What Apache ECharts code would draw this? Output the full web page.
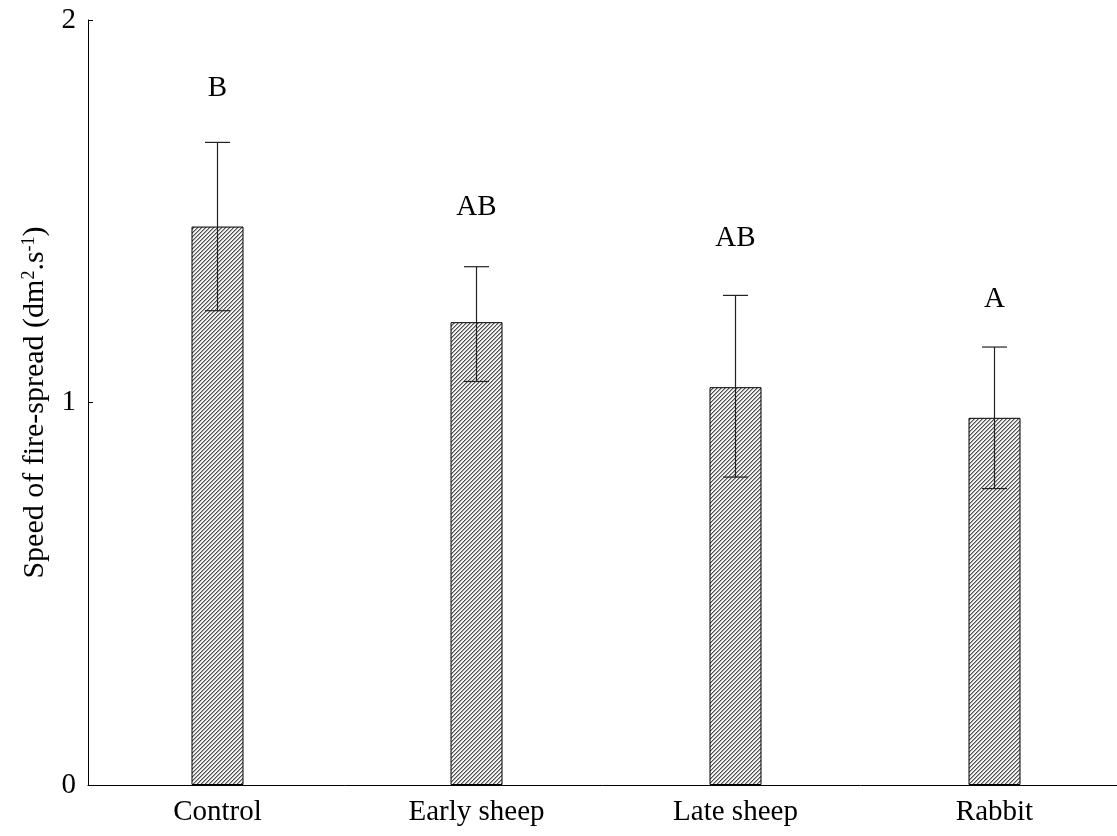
<!DOCTYPE html>
<html>
<head>
<meta charset="utf-8">
<script src="https://cdn.jsdelivr.net/npm/echarts@6/dist/echarts.min.js"></script>
<style>
  html, body { margin: 0; padding: 0; background: #fff; }
  #chart { width: 1117px; height: 836px; }
</style>
</head>
<body>
<div id="chart"></div>
<script>
// data
const categories = ['Control', 'Early sheep', 'Late sheep', 'Rabbit']
const speedMean = [1.46, 1.21, 1.04, 0.96]
const errLow = [1.24, 1.055, 0.805, 0.775]
const errHigh = [1.68, 1.355, 1.28, 1.145]
const letters = ['B', 'AB', 'AB', 'A']
const letterPos = [1.82, 1.51, 1.43, 1.27]
const yTicks = [0, 1, 2]

const font = 'Liberation Serif'

// diagonal hatch for the bars
const makeHatch = () => {
  const c = document.createElement('canvas')
  c.width = 4
  c.height = 4
  const ctx = c.getContext('2d')
  const img = ctx.createImageData(4, 4)
  for (let y = 0; y < 4; y++) {
    for (let x = 0; x < 4; x++) {
      const k = (x + y) % 4
      const v = k === 0 ? 80 : (k === 1 ? 165 : 242)
      const i = (y * 4 + x) * 4
      img.data[i] = v
      img.data[i + 1] = v
      img.data[i + 2] = v
      img.data[i + 3] = 255
    }
  }
  ctx.putImageData(img, 0, 0)
  return c
}

const chart = echarts.init(document.getElementById('chart'))

const option = {
  animation: false,
  grid: {
    left: 88,
    right: -7,
    top: 20,
    bottom: 51,
    containLabel: false,
    outerBoundsMode: 'none'
  },
  xAxis: {
    type: 'category',
    data: categories,
    axisLine: { lineStyle: { color: '#000', width: 1 } },
    axisTick: { show: false },
    axisLabel: {
      color: '#000',
      fontFamily: font,
      fontSize: 29,
      margin: 13
    }
  },
  yAxis: {
    type: 'value',
    min: 0,
    max: 2,
    interval: 1,
    name: '{t|Speed of fire-spread (dm}{s|2}{t|.s}{s|-1}{t|)}',
    nameLocation: 'middle',
    nameGap: 25,
    nameRotate: 90,
    nameTextStyle: {
      rich: {
        t: { fontFamily: font, fontSize: 30, color: '#000' },
        s: { fontFamily: font, fontSize: 18, color: '#000', padding: [0, 0, 13, 0] }
      }
    },
    axisLine: { show: true, lineStyle: { color: '#000', width: 1 } },
    axisTick: { show: true, inside: true, length: 5, lineStyle: { color: '#000' } },
    splitLine: { show: false },
    axisLabel: {
      color: '#000',
      fontFamily: font,
      fontSize: 29,
      margin: 12,
      padding: [6, 0, 0, 0],
      formatter: (v) => (yTicks.includes(v) ? String(v) : '')
    }
  },
  series: [
    {
      type: 'bar',
      data: speedMean,
      barWidth: 52,
      itemStyle: {
        color: { image: makeHatch(), repeat: 'repeat' },
        borderColor: '#000',
        borderWidth: 1
      }
    },
    {
      type: 'custom',
      data: categories.map((c, i) => [i, errLow[i], errHigh[i]]),
      renderItem: (params, api) => {
        const lo = api.coord([api.value(0), api.value(1)])
        const hi = api.coord([api.value(0), api.value(2)])
        const half = 12.5
        const style = { stroke: '#222', lineWidth: 1.2 }
        return {
          type: 'group',
          children: [
            { type: 'line', shape: { x1: hi[0], y1: hi[1], x2: lo[0], y2: lo[1] }, style },
            { type: 'line', shape: { x1: hi[0] - half, y1: hi[1], x2: hi[0] + half, y2: hi[1] }, style },
            { type: 'line', shape: { x1: lo[0] - half, y1: lo[1], x2: lo[0] + half, y2: lo[1] }, style }
          ]
        }
      },
      z: 5
    },
    {
      // significance letters above the bars
      type: 'custom',
      data: categories.map((c, i) => [i, letterPos[i]]),
      renderItem: (params, api) => {
        const p = api.coord([api.value(0), api.value(1)])
        return {
          type: 'text',
          x: p[0],
          y: p[1],
          style: {
            text: letters[params.dataIndex],
            fill: '#000',
            font: '29px "Liberation Serif"',
            align: 'center',
            verticalAlign: 'middle'
          }
        }
      }
    }
  ]
}

chart.setOption(option)
</script>
</body>
</html>
